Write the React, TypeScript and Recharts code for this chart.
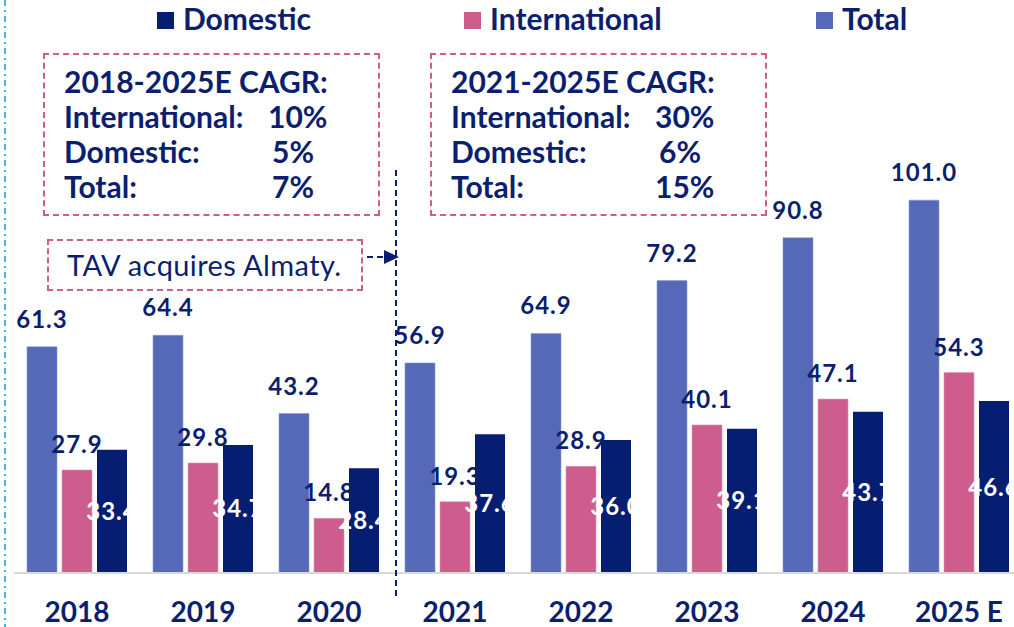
import { BarChart, Bar, XAxis, YAxis, LabelList, Legend } from 'recharts'

const years = ['2018', '2019', '2020', '2021', '2022', '2023', '2024', '2025 E']
const totalPax = [61.3, 64.4, 43.2, 56.9, 64.9, 79.2, 90.8, 101.0]
const internationalPax = [27.9, 29.8, 14.8, 19.3, 28.9, 40.1, 47.1, 54.3]
const domesticPax = [33.4, 34.7, 28.4, 37.6, 36.0, 39.1, 43.7, 46.6]

const cagrLabels = ['International:', 'Domestic:', 'Total:']
const cagr2018 = ['10%', '5%', '7%']
const cagr2021 = ['30%', '6%', '15%']
const legendOrder = ['Domestic', 'International', 'Total']

const NAVY = '#0b1f6e'
const PINK = '#cc5d8c'
const BLUE = '#5669b8'
const DARK = '#061e72'
const FONT = 'Lato, sans-serif'

const data = years.map((year, i) => ({
  year,
  total: totalPax[i],
  international: internationalPax[i],
  domestic: domesticPax[i],
}))

const fmt = (v: any) => Number(v).toFixed(1)

// value labels are a bit wider in the original font
const labelStyle = { letterSpacing: 1 }

function YearTick({ x, y, payload }: any) {
  return (
    <text x={x} y={y + 49} textAnchor="middle" fill={NAVY} fontSize={28} fontWeight={700} fontFamily={FONT}>
      {payload.value}
    </text>
  )
}

const legendLeft: Record<string, number> = { Domestic: 157, International: 464, Total: 816 }

function TopLegend({ payload }: any) {
  const items = legendOrder.map((name) => (payload || []).find((p: any) => p.value === name)).filter(Boolean)
  return (
    <div style={{ position: 'relative', height: 36 }}>
      {items.map((p: any) => (
        <div key={p.value} style={{ position: 'absolute', left: legendLeft[p.value], top: 0, height: 36, lineHeight: '36px', whiteSpace: 'nowrap' }}>
          <span style={{ position: 'absolute', left: 0, top: 12, width: 17, height: 17, background: p.color }} />
          <span style={{ position: 'absolute', left: 26, top: 0, fontSize: 30, fontWeight: 700, color: NAVY }}>{p.value}</span>
        </div>
      ))}
    </div>
  )
}

function CagrBox({ left, title, values }: { left: number; title: string; values: string[] }) {
  return (
    <div style={{ position: 'absolute', left, top: 53, width: 333, height: 159, border: `2px dashed ${PINK}` }}>
      <div style={{ position: 'absolute', left: 19, top: 9, fontSize: 30, fontWeight: 700, color: NAVY, lineHeight: '35px', whiteSpace: 'nowrap' }}>
        <div>{title}</div>
        {cagrLabels.map((label, i) => (
          <div key={label} style={{ position: 'relative' }}>
            {label}
            <span style={{ position: 'absolute', left: values[i].length > 2 ? 204 : 208 }}>{values[i]}</span>
          </div>
        ))}
      </div>
    </div>
  )
}

export default function App() {
  return (
    <div style={{ position: 'absolute', left: 0, top: 0, width: 1014, height: 627, overflow: 'hidden', background: '#fff', fontFamily: FONT }}>
      <BarChart
        width={1030}
        height={627}
        data={data}
        margin={{ top: 94, right: 8, left: 14, bottom: 0 }}
        barSize={30}
        barGap={5}
      >
        <Legend
          verticalAlign="top"
          content={<TopLegend />}
          wrapperStyle={{ left: 0, top: 0, width: 1014, height: 36 }}
        />
        <XAxis
          dataKey="year"
          height={54}
          tickLine={false}
          tickSize={0}
          tickMargin={0}
          axisLine={{ stroke: '#d9d9d9', strokeWidth: 2 }}
          tick={<YearTick />}
          interval={0}
        />
        <YAxis hide domain={[0, 120]} />
        <Bar dataKey="total" name="Total" fill={BLUE} stroke="#8c9ad0" strokeWidth={0.6} isAnimationActive={false}>
          <LabelList dataKey="total" position="top" offset={19} formatter={fmt} fill={NAVY} fontSize={24} fontWeight={700} style={labelStyle} />
        </Bar>
        <Bar dataKey="international" name="International" fill={PINK} stroke="#e096b4" strokeWidth={0.6} isAnimationActive={false}>
          <LabelList dataKey="international" position="top" offset={17} formatter={fmt} fill={NAVY} fontSize={24} fontWeight={700} style={labelStyle} />
        </Bar>
        <Bar dataKey="domestic" name="Domestic" fill={DARK} isAnimationActive={false}>
          <LabelList dataKey="domestic" position="center" formatter={fmt} fill="#ffffff" fontSize={24} fontWeight={700} style={labelStyle} />
        </Bar>
      </BarChart>

      <CagrBox left={43} title="2018-2025E CAGR:" values={cagr2018} />
      <CagrBox left={430} title="2021-2025E CAGR:" values={cagr2021} />

      <div style={{ position: 'absolute', left: 47, top: 239, width: 312, height: 48, border: `2px dashed ${PINK}` }}>
        <div style={{ position: 'absolute', left: 18, top: 6, fontSize: 29, letterSpacing: 0.4, color: NAVY, lineHeight: '35px', whiteSpace: 'nowrap' }}>
          TAV acquires Almaty.
        </div>
      </div>

      <svg width={1014} height={627} style={{ position: 'absolute', left: 0, top: 0, pointerEvents: 'none' }}>
        <line x1={5} y1={0} x2={5} y2={627} stroke="#45b4da" strokeWidth={2} strokeDasharray="6 4 2 4" />
        <line x1={396} y1={170} x2={396} y2={598} stroke={NAVY} strokeWidth={2} strokeDasharray="6 4" />
        <line x1={367} y1={257} x2={386} y2={257} stroke={NAVY} strokeWidth={2} strokeDasharray="6 4" />
        <polygon points="384,250 399,257 384,264" fill={NAVY} />
      </svg>
    </div>
  )
}
